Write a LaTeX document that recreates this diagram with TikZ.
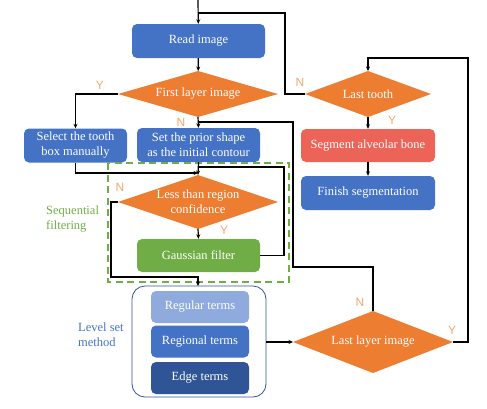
\documentclass[tikz,border=0pt]{standalone}
\usepackage{fontspec}
\setmainfont{Liberation Serif}
\newfontfamily\ynfont{Liberation Sans}
\usetikzlibrary{arrows.meta,positioning,shapes.geometric}
\definecolor{boxblue}{RGB}{68,114,196}
\definecolor{lightblue}{RGB}{143,170,220}
\definecolor{darkblue}{RGB}{47,85,151}
\definecolor{diaorange}{RGB}{237,125,49}
\definecolor{ynorange}{RGB}{244,165,110}
\definecolor{leafgreen}{RGB}{112,173,71}
\definecolor{bonered}{RGB}{236,100,88}

\begin{document}
\begin{tikzpicture}[x=1pt,y=-1pt,font=\fontsize{12.5}{15}\selectfont,
  box/.style={rounded corners=5pt,fill=boxblue,text=white,align=center,inner sep=0pt,minimum height=34pt},
  dia/.style={diamond,fill=diaorange,text=white,align=center,inner sep=0pt,outer sep=0pt},
  term/.style={rounded corners=5pt,text=white,inner sep=0pt,minimum width=98pt,minimum height=32pt},
  yn/.style={text=ynorange,font=\ynfont\fontsize{12}{14}\selectfont,inner sep=0pt},
  arr/.style={-{Stealth[length=4.5pt,width=4pt]},line width=1.2pt},
  link/.style={line width=1.2pt}]
\useasboundingbox (0,0) rectangle (487,408);
% nodes
\node[box,minimum width=133pt] (read) at (198.5,41) {Read image};
\node[dia,aspect=3.48,minimum width=160pt,minimum height=46pt] (first) at (198,94) {First layer image};
\node[box,minimum width=103pt] (select) at (75.5,145.5) {Select the tooth\\box manually};
\node[box,minimum width=123pt] (prior) at (198.5,145) {Set the prior shape\\as the initial contour};
\node[dia,aspect=2.96,inner sep=-1.5pt,minimum width=160pt,minimum height=54pt] (conf) at (198,202) {Less than region\\confidence};
\node[box,fill=leafgreen,minimum width=123pt,minimum height=33pt] (gauss) at (198.5,255.5) {Gaussian filter};
\draw[leafgreen,line width=1.3pt,dash pattern=on 7pt off 4.5pt] (108,163) rectangle (289,282);
\node[text=leafgreen,align=left,anchor=west,inner sep=0pt] (seqlbl) at (46,219) {Sequential\\filtering};
\draw[darkblue,line width=0.8pt,rounded corners=13pt] (132,286) rectangle (266,397);
\coordinate (lvlN) at (198,286);
\coordinate (lvlE) at (266,342);
\node[term,fill=lightblue] (regular) at (200,307) {Regular terms};
\node[term,fill=boxblue] (regional) at (200,341.5) {Regional terms};
\node[term,fill=darkblue] (edge) at (200,378) {Edge terms};
\node[text=boxblue,align=left,anchor=west,inner sep=0pt] (lvllbl) at (78,335) {Level set\\method};
\node[dia,aspect=2.58,minimum width=160pt,minimum height=62pt] (lastlayer) at (373,342) {Last layer image};
\node[dia,aspect=2.74,minimum width=126pt,minimum height=46pt] (tooth) at (368,94) {Last tooth};
\node[box,fill=bonered,minimum width=134pt,minimum height=33pt] (bone) at (368,145.5) {Segment alveolar bone};
\node[box,minimum width=134pt] (finish) at (368,193) {Finish segmentation};
% Y / N labels
\node[yn] at (100,85) {Y};
\node[yn] at (181,122) {N};
\node[yn] at (300,82) {N};
\node[yn] at (392,120) {Y};
\node[yn] at (120,187) {N};
\node[yn] at (224,230) {Y};
\node[yn] at (360,302) {N};
\node[yn] at (452,330) {Y};
% joins
\coordinate (start) at (198,0);
\coordinate (backtop) at (198,13);
\coordinate (backprior) at (198,122);
\coordinate (backgauss) at (198,167);
\coordinate (joinsel) at (198,173);
\coordinate (joinlvl) at (198,277);
% connectors
\draw[arr](start)--(read);\draw[arr](read)--(first);\draw[arr](first.west)-|(select.north);\draw[arr](first.south)--(prior.north);
\draw[arr](select.south)|-(joinsel);\draw[arr](prior.south)--(conf.north);\draw[arr](conf.south)--(gauss.north);
\draw[link](gauss.east)-|(284,167)--(backgauss);
\draw[arr](conf.west)-|(111,277)--(joinlvl)--(lvlN);
\draw[arr](lvlE)--(lastlayer.west);
\draw[link](lastlayer.north)|-(293,267)|-(backprior);
\draw[arr](lastlayer.east)-|(468,58)-|(tooth.north);
\draw[link](tooth.west)-|(285,13)--(backtop);
\draw[arr](tooth.south)--(bone.north);\draw[arr](bone.south)--(finish.north);
\end{tikzpicture}
\end{document}
